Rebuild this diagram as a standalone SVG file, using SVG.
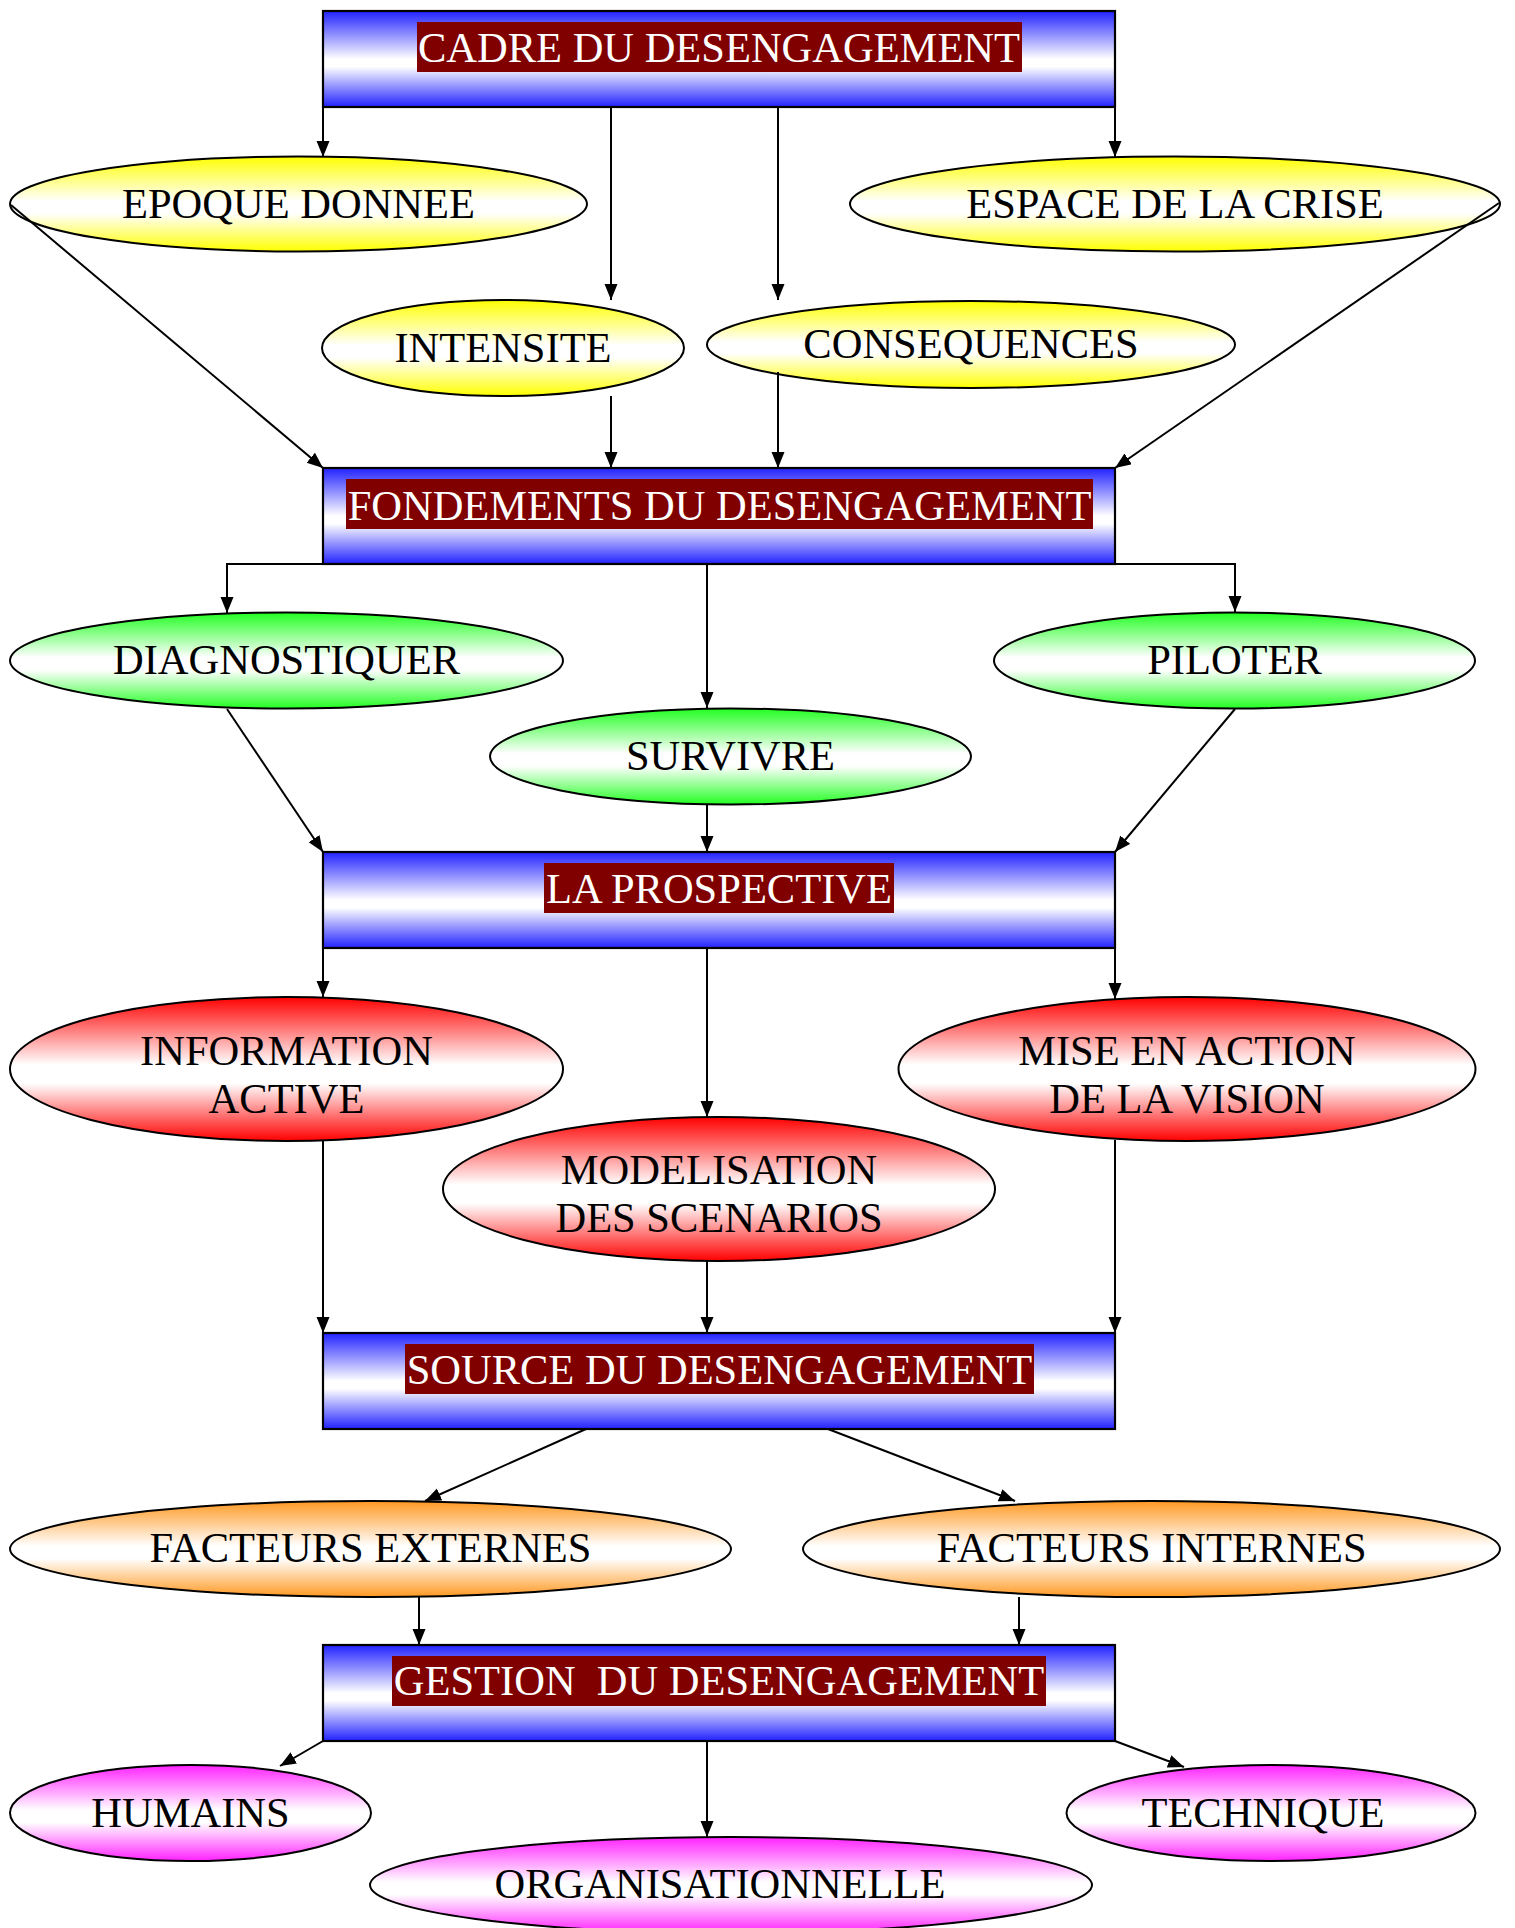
<svg xmlns="http://www.w3.org/2000/svg" width="1515" height="1928" viewBox="0 0 1515 1928">
<style>
.box{stroke:#000;stroke-width:2.2;fill:url(#gBlue)}
.lbl{fill:#800000}
.bt{font-family:"Liberation Serif","Times New Roman",serif;font-size:42.5px;fill:#fff;text-anchor:middle;white-space:pre}
.et{font-family:"Liberation Serif","Times New Roman",serif;font-size:42.5px;fill:#000;text-anchor:middle}
.ell{stroke:#000;stroke-width:2}
.c{fill:none;stroke:#000;stroke-width:2;marker-end:url(#arr)}
</style>
<defs>
<marker id="arr" markerUnits="userSpaceOnUse" markerWidth="17" markerHeight="14" refX="16" refY="6.5" orient="auto">
<path d="M0,0 L16,6.5 L0,13 Z" fill="#000"/>
</marker>
<linearGradient id="gBlue" x1="0" y1="0" x2="0" y2="1">
<stop offset="0" stop-color="#2222ff"/><stop offset="0.5" stop-color="#ffffff"/><stop offset="0.58" stop-color="#ffffff"/><stop offset="1" stop-color="#2222ff"/>
</linearGradient>
<linearGradient id="gY" x1="0" y1="0" x2="0" y2="1">
<stop offset="0" stop-color="#ffff00"/><stop offset="0.47" stop-color="#ffffff"/><stop offset="0.6" stop-color="#ffffff"/><stop offset="1" stop-color="#ffff00"/>
</linearGradient>
<linearGradient id="gG" x1="0" y1="0" x2="0" y2="1">
<stop offset="0" stop-color="#22ff22"/><stop offset="0.47" stop-color="#ffffff"/><stop offset="0.6" stop-color="#ffffff"/><stop offset="1" stop-color="#22ff22"/>
</linearGradient>
<linearGradient id="gR" x1="0" y1="0" x2="0" y2="1">
<stop offset="0" stop-color="#ff0000"/><stop offset="0.47" stop-color="#ffffff"/><stop offset="0.6" stop-color="#ffffff"/><stop offset="1" stop-color="#ff0000"/>
</linearGradient>
<linearGradient id="gO" x1="0" y1="0" x2="0" y2="1">
<stop offset="0" stop-color="#ff9922"/><stop offset="0.47" stop-color="#ffffff"/><stop offset="0.6" stop-color="#ffffff"/><stop offset="1" stop-color="#ff9922"/>
</linearGradient>
<linearGradient id="gM" x1="0" y1="0" x2="0" y2="1">
<stop offset="0" stop-color="#ff22ff"/><stop offset="0.47" stop-color="#ffffff"/><stop offset="0.6" stop-color="#ffffff"/><stop offset="1" stop-color="#ff22ff"/>
</linearGradient>
</defs>
<rect width="1515" height="1928" fill="#fff"/>

<g id="cadre"><rect class="box" x="323" y="11" width="792" height="96"/><rect class="lbl" x="417" y="22" width="605" height="50"/><text class="bt" x="719" y="62" xml:space="preserve">CADRE DU DESENGAGEMENT</text></g>
<g id="epoque"><ellipse class="ell" fill="url(#gY)" cx="298.5" cy="204" rx="288.5" ry="47.5"/><text class="et" x="298.5" y="218">EPOQUE DONNEE</text></g>
<g id="espace"><ellipse class="ell" fill="url(#gY)" cx="1175" cy="204" rx="325" ry="47.5"/><text class="et" x="1175" y="218">ESPACE DE LA CRISE</text></g>
<g id="intensite"><ellipse class="ell" fill="url(#gY)" cx="503" cy="348" rx="181" ry="48"/><text class="et" x="503" y="362">INTENSITE</text></g>
<g id="consequences"><ellipse class="ell" fill="url(#gY)" cx="971" cy="344.5" rx="264" ry="43.5"/><text class="et" x="971" y="358">CONSEQUENCES</text></g>

<g id="fondements"><rect class="box" x="323" y="468" width="792" height="96"/><rect class="lbl" x="346" y="479" width="747" height="50"/><text class="bt" x="719.5" y="520" xml:space="preserve">FONDEMENTS DU DESENGAGEMENT</text></g>
<g id="diagnostiquer"><ellipse class="ell" fill="url(#gG)" cx="286.5" cy="660.5" rx="276.5" ry="48"/><text class="et" x="286.5" y="674">DIAGNOSTIQUER</text></g>
<g id="piloter"><ellipse class="ell" fill="url(#gG)" cx="1234.5" cy="660.5" rx="240.5" ry="48"/><text class="et" x="1234.5" y="674">PILOTER</text></g>
<g id="survivre"><ellipse class="ell" fill="url(#gG)" cx="730.5" cy="756.5" rx="240.5" ry="48"/><text class="et" x="730.5" y="770">SURVIVRE</text></g>

<g id="prospective"><rect class="box" x="323" y="852" width="792" height="96"/><rect class="lbl" x="544" y="863" width="350" height="50"/><text class="bt" x="719" y="903" xml:space="preserve">LA PROSPECTIVE</text></g>
<g id="information"><ellipse class="ell" fill="url(#gR)" cx="286.5" cy="1069" rx="276.5" ry="72"/><text class="et" x="286.5" y="1065">INFORMATION</text><text class="et" x="286.5" y="1113">ACTIVE</text></g>
<g id="mise"><ellipse class="ell" fill="url(#gR)" cx="1187" cy="1069" rx="288.5" ry="72"/><text class="et" x="1187" y="1065">MISE EN ACTION</text><text class="et" x="1187" y="1113">DE LA VISION</text></g>
<g id="modelisation"><ellipse class="ell" fill="url(#gR)" cx="719" cy="1189" rx="276" ry="72"/><text class="et" x="719" y="1184">MODELISATION</text><text class="et" x="719" y="1232">DES SCENARIOS</text></g>

<g id="source"><rect class="box" x="323" y="1333" width="792" height="96"/><rect class="lbl" x="405" y="1344" width="629" height="50"/><text class="bt" x="719.5" y="1384" xml:space="preserve">SOURCE DU DESENGAGEMENT</text></g>
<g id="externes"><ellipse class="ell" fill="url(#gO)" cx="370.5" cy="1549" rx="360.5" ry="48"/><text class="et" x="370.5" y="1562">FACTEURS EXTERNES</text></g>
<g id="internes"><ellipse class="ell" fill="url(#gO)" cx="1151.5" cy="1549" rx="348.5" ry="48"/><text class="et" x="1151.5" y="1562">FACTEURS INTERNES</text></g>

<g id="gestion"><rect class="box" x="323" y="1645" width="792" height="96"/><rect class="lbl" x="392" y="1656" width="654" height="50"/><text class="bt" x="719" y="1695" xml:space="preserve">GESTION  DU DESENGAGEMENT</text></g>
<g id="humains"><ellipse class="ell" fill="url(#gM)" cx="190.5" cy="1813" rx="180.5" ry="48"/><text class="et" x="190.5" y="1827">HUMAINS</text></g>
<g id="technique"><ellipse class="ell" fill="url(#gM)" cx="1271" cy="1813" rx="204.5" ry="48"/><text class="et" x="1263" y="1827">TECHNIQUE</text></g>
<g id="organisationnelle"><ellipse class="ell" fill="url(#gM)" cx="731" cy="1885" rx="361" ry="48"/><text class="et" x="720" y="1898">ORGANISATIONNELLE</text></g>

<g id="connectors">
<path class="c" d="M323,107 V157"/>
<path class="c" d="M611,107 V300"/>
<path class="c" d="M778,107 V300"/>
<path class="c" d="M1115,107 V157"/>
<path class="c" d="M11,205 L323,468"/>
<path class="c" d="M611,396 V468"/>
<path class="c" d="M778,372 V468"/>
<path class="c" d="M1499,203 L1115,468"/>
<path class="c" d="M323,564 H227 V613"/>
<path class="c" d="M1115,564 H1235 V612"/>
<path class="c" d="M707,564 V708"/>
<path class="c" d="M227,709 L323,852"/>
<path class="c" d="M707,805 V852"/>
<path class="c" d="M1235,709 L1115,852"/>
<path class="c" d="M323,948 V997"/>
<path class="c" d="M707,948 V1117"/>
<path class="c" d="M1115,948 V999"/>
<path class="c" d="M323,1141 V1333"/>
<path class="c" d="M707,1261 V1333"/>
<path class="c" d="M1115,1140 V1333"/>
<path class="c" d="M586,1429 L425,1501"/>
<path class="c" d="M828,1429 L1015,1501"/>
<path class="c" d="M419,1597 V1645"/>
<path class="c" d="M1019,1597 V1645"/>
<path class="c" d="M323,1741 L280,1766"/>
<path class="c" d="M707,1741 V1837"/>
<path class="c" d="M1115,1741 L1184,1767"/>
</g>
</svg>
